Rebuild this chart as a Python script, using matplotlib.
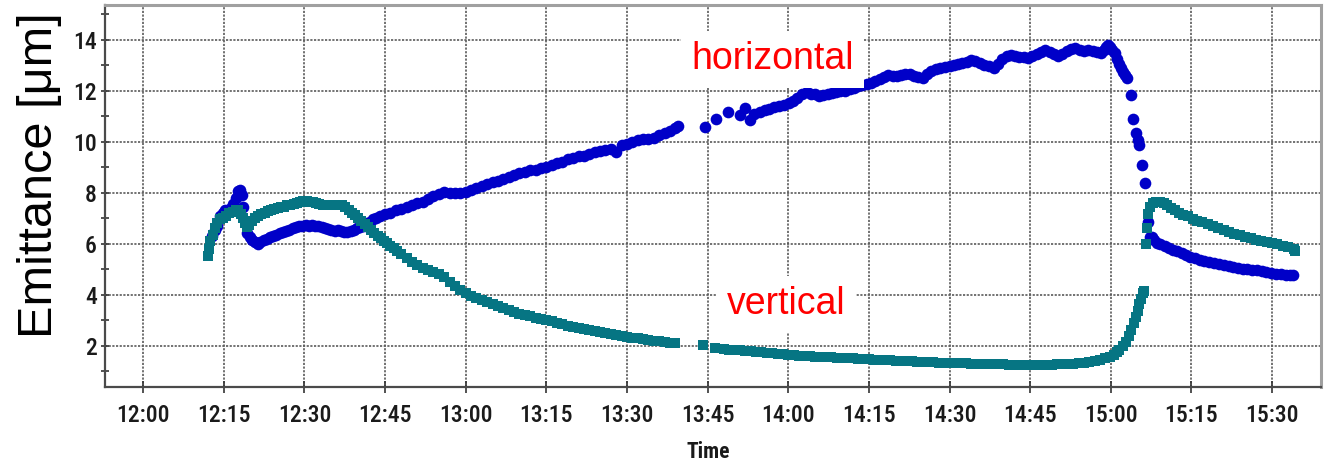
import matplotlib
matplotlib.use("Agg")
import matplotlib.pyplot as plt
from matplotlib import font_manager
from matplotlib.ticker import FixedLocator

# time axis: minutes after 12:00
tick_min = [0, 15, 30, 45, 60, 75, 90, 105, 120, 135, 150, 165, 180, 195, 210]
tick_lbl = ["12:00", "12:15", "12:30", "12:45", "13:00", "13:15", "13:30", "13:45",
            "14:00", "14:15", "14:30", "14:45", "15:00", "15:15", "15:30"]

# horizontal emittance [um]
h_t = [12.8, 13.3, 13.8, 14.3, 14.8, 15.3, 15.8, 16.3, 16.8, 17.3, 17.7, 18.0, 18.3, 18.6,
       19.0, 19.4, 19.8, 20.3, 20.8, 21.3, 21.8, 22.4, 23.0, 23.6, 24.2, 24.8, 25.4, 26.0,
       26.6, 27.2, 27.8, 28.4, 29.0, 29.6, 30.2, 30.8, 31.4, 32.0, 32.6, 33.2, 33.8, 34.4,
       35.0, 35.6, 36.2, 36.8, 37.4, 38.0, 38.6, 39.2, 39.8, 40.4, 41.0, 41.6, 42.2, 42.8,
       43.4, 44, 45, 46, 47, 48, 49, 50, 51, 52, 53, 54, 55, 56, 57, 58, 59, 60, 61, 62, 63,
       64, 65, 66, 67, 68, 69, 70, 71, 72, 73, 74, 75, 76, 77, 78, 79, 80, 81, 82, 83, 84,
       85, 86, 87, 88, 89, 90, 91, 92, 93, 94, 95, 96, 97, 98, 99, 99.5,
       104.5, 106.6, 108.8, 111.0, 111.9, 112.8, 113.7, 114.7, 115.6, 116.5, 117.4, 118.3,
       119.2, 120.1, 120.9, 121.7, 122.5, 123.4, 124.2, 125.0, 125.8, 126.5, 127.3, 128.1,
       128.9, 129.6, 130.5, 131.4, 132.2, 133.0, 133.8, 134.6, 135.4, 136.2, 137.0, 137.8,
       138.6, 139.4, 140.2, 141.0, 141.8, 142.6, 143.4, 144.2, 145.0, 145.8, 146.6, 147.5,
       148.3, 149.1, 150.0, 150.8, 151.6, 152.4, 153.2, 154.0, 154.8, 155.6, 156.4, 157.3,
       158.2, 159.0, 159.8, 160.6, 161.4, 162.2, 163.0, 163.8, 164.6, 165.4, 166.2, 167.0,
       167.8, 168.6, 169.4, 170.2, 171.0, 171.8, 172.6, 173.4, 174.2, 175.0, 175.8, 176.6,
       177.4, 178.1, 178.7, 179.1, 179.4, 179.8, 180.3, 180.7, 181.1, 181.5, 181.9, 182.3,
       182.7, 183.1, 183.8, 184.2, 184.7, 185.0, 185.3, 185.8, 186.3, 186.9, 187.2, 187.6,
       188.0, 188.5, 189.2, 190.0, 190.8, 191.6, 192.4, 193.2, 194.0, 194.8, 195.6, 196.5,
       197.4, 198.3, 199.2, 200.1, 201.0, 201.9, 202.7, 203.6, 204.5, 205.4, 206.3, 207.2,
       208.1, 208.9, 209.8, 210.7, 211.6, 212.5, 213.4, 213.8]
h_emit = [6.3, 6.55, 6.7, 7.1, 7.2, 7.3, 7.3, 7.4, 7.55, 7.8, 8.05, 8.1, 7.9, 7.45,
          6.9, 6.4, 6.25, 6.15, 6.05, 6.0, 6.05, 6.15, 6.2, 6.25, 6.3, 6.35, 6.4, 6.45,
          6.5, 6.55, 6.6, 6.65, 6.68, 6.7, 6.72, 6.7, 6.72, 6.7, 6.68, 6.65, 6.62, 6.58,
          6.55, 6.5, 6.52, 6.48, 6.47, 6.45, 6.48, 6.55, 6.6, 6.65, 6.7, 6.8, 6.85, 6.95,
          7.0, 7.1, 7.15, 7.22, 7.3, 7.35, 7.42, 7.5, 7.58, 7.65, 7.75, 7.85, 7.95, 8.03,
          7.98, 7.97, 8.0, 8.03, 8.1, 8.18, 8.25, 8.33, 8.4, 8.45, 8.55, 8.62, 8.7, 8.75,
          8.82, 8.87, 8.9, 8.95, 9.0, 9.1, 9.17, 9.22, 9.3, 9.34, 9.42, 9.45, 9.5, 9.58,
          9.62, 9.67, 9.7, 9.6, 9.85, 9.92, 10.0, 10.05, 10.1, 10.12, 10.13, 10.25, 10.35,
          10.4, 10.52, 10.6,
          10.58, 10.9, 11.17, 11.04, 11.3, 10.84, 11.1, 11.17, 11.22, 11.28, 11.34, 11.4,
          11.45, 11.5, 11.58, 11.7, 11.85, 11.95, 11.88, 11.85, 11.8, 11.82, 11.88, 11.92,
          11.96, 11.97, 12.0, 12.05, 12.12, 12.16, 12.2, 12.25, 12.3, 12.38, 12.45, 12.52,
          12.6, 12.57, 12.56, 12.6, 12.65, 12.63, 12.57, 12.52, 12.5, 12.65, 12.76, 12.83,
          12.87, 12.92, 12.97, 13.02, 13.05, 13.08, 13.12, 13.18, 13.14, 13.07, 13.0, 12.95,
          12.87, 13.05, 13.22, 13.35, 13.39, 13.35, 13.3, 13.3, 13.26, 13.35, 13.45, 13.53,
          13.59, 13.52, 13.42, 13.35, 13.42, 13.55, 13.63, 13.65, 13.6, 13.56, 13.59, 13.57,
          13.5, 13.48, 13.6, 13.7, 13.8, 13.72, 13.58, 13.46, 13.25, 13.05, 12.87, 12.72,
          12.6, 12.48, 11.82, 10.9, 10.32, 10.05, 9.86, 9.08, 8.38, 6.85, 6.25, 6.28,
          6.15, 6.02, 5.98, 5.92, 5.82, 5.75, 5.7, 5.62, 5.55, 5.48, 5.42, 5.36,
          5.31, 5.27, 5.23, 5.19, 5.15, 5.12, 5.09, 5.05, 5.02, 5.0, 4.97, 4.95,
          4.92, 4.9, 4.86, 4.83, 4.8, 4.78, 4.77, 4.76]

# vertical emittance [um]
v_t = [12.1, 12.3, 12.5, 12.9, 13.3, 13.8, 14.3, 14.9, 15.4, 16.0, 16.7, 17.2, 17.7, 18.2,
       18.6, 19.0, 19.3, 19.7, 20.2, 20.8, 21.4, 22.0, 22.6, 23.2, 23.8, 24.4, 25.0, 25.6,
       26.2, 26.8, 27.4, 28.0, 28.6, 29.2, 29.8, 30.4, 31.0, 31.6, 32.2, 32.8, 33.4, 34.0,
       34.6, 35.2, 35.8, 36.4, 37.0, 37.6, 38.2, 38.8, 39.4, 40.0, 40.6, 41.2, 41.8, 42.4,
       43.0, 43.6, 44.2, 44.8, 45.4, 46.0, 46.6, 47.2,
       48, 49, 50, 51, 52, 53, 54, 55, 56, 57, 58, 59, 60, 61, 62, 63, 64, 65, 66, 67, 68,
       69, 70, 71, 72, 73, 74, 75, 76, 77, 78, 79, 80, 81, 82, 83, 84, 85, 86, 87, 88, 89,
       90, 91, 92, 93, 94, 95, 96, 97, 98, 99,
       104.2, 106.3, 108, 109, 110, 111, 112, 113, 114, 115, 116, 117, 118, 119, 120, 121,
       122, 123, 124, 125, 126, 127, 128, 129, 130, 131, 132, 133, 134, 135, 136, 137, 138,
       139, 140, 141, 142, 143, 144, 145, 146, 147, 148, 149, 150, 151, 152, 153, 154, 155,
       156, 157, 158, 159, 160, 161, 162, 163, 164, 165, 166, 167, 168, 169, 170, 171, 172,
       173, 174, 175, 176, 177, 178, 179, 179.8, 180.5, 181.1, 181.6, 182.2, 182.9, 183.4,
       183.8, 184.3, 184.7, 185.0, 185.3, 185.6, 185.9, 186.1,
       186.5, 186.7, 186.9, 187.3, 187.8, 188.4, 189.1, 189.8, 190.5, 191.2, 191.9, 192.7,
       193.5, 194.3, 195.2, 196.1, 197, 198, 199, 200, 201, 202, 203, 204, 205, 206, 207,
       208, 209, 210, 211, 212, 213, 214, 214.3]
v_emit = [5.5, 5.8, 6.1, 6.35, 6.6, 6.8, 6.95, 7.0, 7.1, 7.2, 7.25, 7.3, 7.3, 7.15,
          7.0, 6.8, 6.66, 6.75, 6.9, 7.0, 7.1, 7.15, 7.22, 7.27, 7.3, 7.35, 7.38, 7.42,
          7.45, 7.5, 7.53, 7.57, 7.6, 7.65, 7.68, 7.67, 7.65, 7.62, 7.6, 7.55, 7.52, 7.5,
          7.5, 7.5, 7.52, 7.52, 7.5, 7.42, 7.33, 7.22, 7.12, 7.0, 6.88, 6.76, 6.64, 6.52,
          6.42, 6.32, 6.23, 6.12, 6.02, 5.92, 5.82, 5.72,
          5.6, 5.45, 5.3, 5.15, 5.05, 4.98, 4.9, 4.82, 4.68, 4.5, 4.35, 4.2, 4.05, 3.95,
          3.86, 3.78, 3.7, 3.62, 3.55, 3.48, 3.41, 3.33, 3.26, 3.2, 3.15, 3.1, 3.05, 3.0,
          2.95, 2.9, 2.84, 2.79, 2.74, 2.7, 2.65, 2.61, 2.57, 2.54, 2.5, 2.46, 2.42, 2.38,
          2.35, 2.32, 2.29, 2.26, 2.23, 2.2, 2.17, 2.14, 2.12, 2.09,
          2.02, 1.92, 1.87, 1.85, 1.83, 1.82, 1.8, 1.78, 1.76, 1.74, 1.72, 1.7, 1.68, 1.66,
          1.64, 1.62, 1.61, 1.6, 1.58, 1.57, 1.56, 1.55, 1.54, 1.53, 1.52, 1.51, 1.5, 1.49,
          1.48, 1.47, 1.46, 1.45, 1.44, 1.43, 1.42, 1.41, 1.4, 1.39, 1.38, 1.37, 1.36, 1.35,
          1.34, 1.34, 1.33, 1.32, 1.31, 1.31, 1.3, 1.3, 1.29, 1.28, 1.28, 1.27, 1.27, 1.26,
          1.26, 1.25, 1.25, 1.25, 1.25, 1.25, 1.26, 1.26, 1.27, 1.28, 1.29, 1.3, 1.32, 1.34,
          1.37, 1.41, 1.46, 1.51, 1.56, 1.65, 1.75, 1.84, 1.98, 2.15, 2.38, 2.6, 2.9, 3.13,
          3.35, 3.65, 3.85, 4.05, 4.15,
          6.0, 6.6, 7.18, 7.42, 7.58, 7.62, 7.64, 7.6, 7.5, 7.4, 7.32, 7.22, 7.14, 7.07,
          6.98, 6.9, 6.83, 6.76, 6.69, 6.62, 6.54, 6.46, 6.39, 6.33, 6.28, 6.22, 6.16, 6.11,
          6.07, 6.02, 5.98, 5.92, 5.86, 5.8, 5.72]

# pick a narrow face for the tick labels if one is installed
installed = {f.name for f in font_manager.fontManager.ttflist}
narrow = [n for n in ("Liberation Sans Narrow", "Arial Narrow", "DejaVu Sans Condensed",
                      "Roboto Condensed", "Open Sans Condensed") if n in installed]
condensed = [f for f in font_manager.fontManager.ttflist
             if f.name == "DejaVu Sans" and f.stretch in ("condensed", "semi-condensed")]
if narrow:
    TICK_FONT = dict(family=narrow[0], fontsize=17)
elif condensed:
    TICK_FONT = dict(family="DejaVu Sans", stretch="condensed", fontsize=16)
else:
    TICK_FONT = dict(family="Liberation Sans", fontsize=15)

fig = plt.figure(figsize=(13.29, 4.63), dpi=100)
ax = fig.add_axes([0.079, 0.164, 0.915, 0.825])

ax.plot(h_t, h_emit, "o", ms=8.4, mew=0, color="#0000c8", zorder=3)
ax.plot(v_t, v_emit, "s", ms=7.6, mew=0, color="#067583", zorder=4)

ax.set_xlim(-7.1, 219.1)
ax.set_ylim(0.38, 15.35)
ax.xaxis.set_major_locator(FixedLocator(tick_min))
ax.set_xticklabels(tick_lbl)
ax.yaxis.set_major_locator(FixedLocator([2, 4, 6, 8, 10, 12, 14]))
ax.yaxis.set_minor_locator(FixedLocator([1, 3, 5, 7, 9, 11, 13, 15]))

ax.tick_params(axis="x", which="major", direction="inout", length=9, width=1.2,
               color="#333333", pad=8, labelcolor="#1a1a1a")
ax.tick_params(axis="y", which="major", direction="inout", length=6, width=1.2,
               color="#333333", pad=3, labelcolor="#1a1a1a")
ax.tick_params(axis="y", which="minor", direction="inout", length=6, width=1.2,
               color="#333333")
for lbl in ax.get_xticklabels() + ax.get_yticklabels():
    lbl.set(**TICK_FONT)
    lbl.set_fontweight("medium")

ax.grid(True, which="major", linestyle=(0, (1.3, 0.9)), linewidth=1.2, color="#5a5a5a")
ax.set_axisbelow(True)

for side in ("top", "right"):
    ax.spines[side].set_color("#a0a0a0")
    ax.spines[side].set_linewidth(2.2)
for side in ("left", "bottom"):
    ax.spines[side].set_color("#4a4a4a")
    ax.spines[side].set_linewidth(1.6)

box = dict(facecolor="white", edgecolor="none", boxstyle="square,pad=0.28")
ax.text(117.1, 12.84, "horizontal", color="#ff0000", fontsize=27,
        family="Liberation Sans", ha="center", va="baseline", bbox=box, zorder=5)
ax.text(119.6, 3.24, "vertical", color="#ff0000", fontsize=27,
        family="Liberation Sans", ha="center", va="baseline", bbox=box, zorder=5)

fig.text(0.030, 0.622, "Emittance [\u03bcm]", rotation=90, fontsize=35,
         family="Liberation Sans", ha="center", va="center", color="black")
time_font = dict(TICK_FONT, fontsize=15.5)
fig.text(0.533, 0.024, "Time", fontweight="bold", ha="center", va="center",
         color="#1a1a1a", **time_font)

fig.savefig("out.png", dpi=100)
